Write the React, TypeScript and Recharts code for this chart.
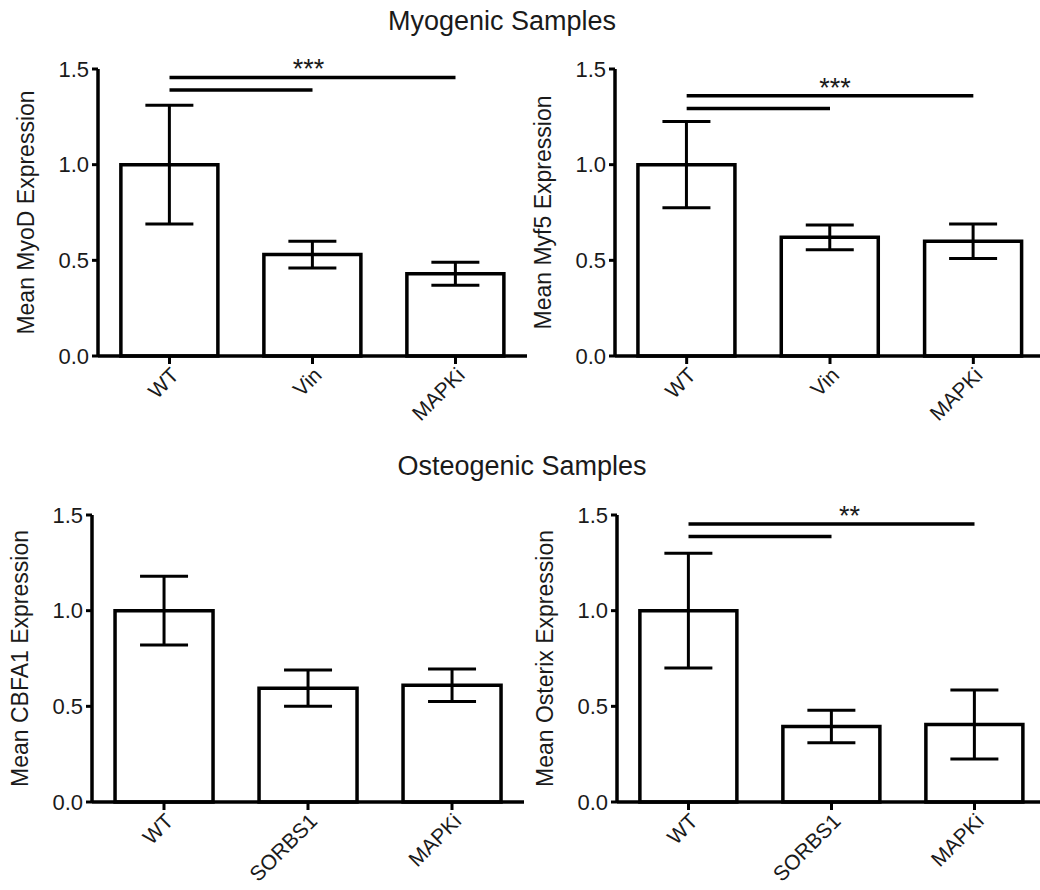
import React from 'react';
import { BarChart, Bar, XAxis, YAxis, ErrorBar, ReferenceLine, ReferenceDot } from 'recharts';

// categories
const myoCategories = ['WT', 'Vin', 'MAPKi'];
const osteoCategories = ['WT', 'SORBS1', 'MAPKi'];

// means and SEM
const myodMeans = [1.0, 0.53, 0.43];
const myodErrors = [0.31, 0.07, 0.06];
const myf5Means = [1.0, 0.62, 0.6];
const myf5Errors = [0.225, 0.065, 0.09];
const cbfa1Means = [1.0, 0.595, 0.61];
const cbfa1Errors = [0.18, 0.095, 0.085];
const osterixMeans = [1.0, 0.395, 0.405];
const osterixErrors = [0.3, 0.085, 0.18];

// significance brackets: [long line, short line]
const myodSig = [1.456, 1.39];
const myf5Sig = [1.36, 1.294];
const osterixSig = [1.453, 1.388];

const yTicks = [0, 0.5, 1.0, 1.5];

const FONT = '"Liberation Sans", Arial, sans-serif';
const INK = '#000';
const TEXT = '#1a1a1a';

type PanelProps = {
  axisX: number;
  plotTop: number;
  plotWidth: number;
  categories: string[];
  means: number[];
  errors: number[];
  yLabel: string;
  sig?: number[];
  stars?: string;
  starDx?: number;
};

const Y_AXIS_W = 144;
const PLOT_H = 287;
const X_AXIS_H = 115;
const TOP_PAD = 40;

const Panel: React.FC<PanelProps> = ({ axisX, plotTop, plotWidth, categories, means, errors, yLabel, sig, stars, starDx = 0 }) => {
  const data = categories.map((name, i) => ({ name, mean: means[i], err: errors[i] }));
  const width = Y_AXIS_W + plotWidth + 4;
  const height = TOP_PAD + PLOT_H + X_AXIS_H;
  const last = categories[categories.length - 1];
  return (
    <div style={{ position: 'absolute', left: axisX - Y_AXIS_W, top: plotTop - TOP_PAD }}>
      <BarChart
        width={width}
        height={height}
        data={data}
        margin={{ top: TOP_PAD, right: 4, bottom: 0, left: 0 }}
        barCategoryGap="16%"
      >
        <XAxis
          dataKey="name"
          interval={0}
          height={X_AXIS_H}
          axisLine={{ stroke: INK, strokeWidth: 3.5 }}
          tickLine={{ stroke: INK, strokeWidth: 3 }}
          tickSize={8}
          tickMargin={2}
          angle={-45}
          textAnchor="end"
          tick={{ fill: TEXT, fontSize: 21, fontFamily: FONT }}
        />
        <YAxis
          domain={[0, 1.5]}
          ticks={yTicks}
          width={Y_AXIS_W}
          tickFormatter={(v: number) => v.toFixed(1)}
          axisLine={{ stroke: INK, strokeWidth: 3.5 }}
          tickLine={{ stroke: INK, strokeWidth: 3 }}
          tickSize={6}
          tickMargin={3}
          tick={{ fill: TEXT, fontSize: 22, fontFamily: FONT }}
          label={{ value: yLabel, angle: -90, position: 'center', fill: TEXT, fontSize: 23, fontFamily: FONT }}
        />
        <Bar dataKey="mean" fill="#fff" stroke={INK} strokeWidth={3.5} isAnimationActive={false}>
          <ErrorBar dataKey="err" direction="y" width={24} stroke={INK} strokeWidth={3} />
        </Bar>
        {sig && (
          <ReferenceLine
            segment={[{ x: categories[0], y: sig[0] }, { x: last, y: sig[0] }]}
            stroke={INK}
            strokeWidth={3.5}
            ifOverflow="visible"
          />
        )}
        {sig && (
          <ReferenceLine
            segment={[{ x: categories[0], y: sig[1] }, { x: categories[1], y: sig[1] }]}
            stroke={INK}
            strokeWidth={3.5}
            ifOverflow="visible"
          />
        )}
        {sig && stars && (
          <ReferenceDot
            x={categories[1]}
            y={sig[0]}
            r={1}
            fill="none"
            stroke="none"
            ifOverflow="visible"
            label={(p: any) => {
              const vb = p.viewBox || {};
              const cx = (vb.x ?? 0) + (vb.width ?? 0) / 2;
              const cy = (vb.y ?? 0) + (vb.height ?? 0) / 2;
              return (
                <text x={cx + starDx} y={cy + 1} textAnchor="middle" fill={TEXT} fontSize={27} fontFamily={FONT}>
                  {stars}
                </text>
              );
            }}
          />
        )}
      </BarChart>
    </div>
  );
};

export default function App() {
  return (
    <div style={{ position: 'absolute', left: 0, top: 0, width: 1040, height: 890, overflow: 'hidden', background: '#fff' }}>
      <svg width={1040} height={890} style={{ position: 'absolute', left: 0, top: 0 }}>
        <text x={502} y={30} textAnchor="middle" fill={TEXT} fontSize={27} fontFamily={FONT}>Myogenic Samples</text>
        <text x={522} y={475} textAnchor="middle" fill={TEXT} fontSize={27} fontFamily={FONT}>Osteogenic Samples</text>
      </svg>
      <Panel axisX={98} plotTop={69} plotWidth={429} categories={myoCategories} means={myodMeans} errors={myodErrors}
        yLabel="Mean MyoD Expression" sig={myodSig} stars="***" starDx={-4} />
      <Panel axisX={615} plotTop={69} plotWidth={430} categories={myoCategories} means={myf5Means} errors={myf5Errors}
        yLabel="Mean Myf5 Expression" sig={myf5Sig} stars="***" starDx={5} />
      <Panel axisX={92} plotTop={515} plotWidth={432} categories={osteoCategories} means={cbfa1Means} errors={cbfa1Errors}
        yLabel="Mean CBFA1 Expression" />
      <Panel axisX={617} plotTop={515} plotWidth={429} categories={osteoCategories} means={osterixMeans} errors={osterixErrors}
        yLabel="Mean Osterix Expression" sig={osterixSig} stars="**" starDx={18} />
    </div>
  );
}
